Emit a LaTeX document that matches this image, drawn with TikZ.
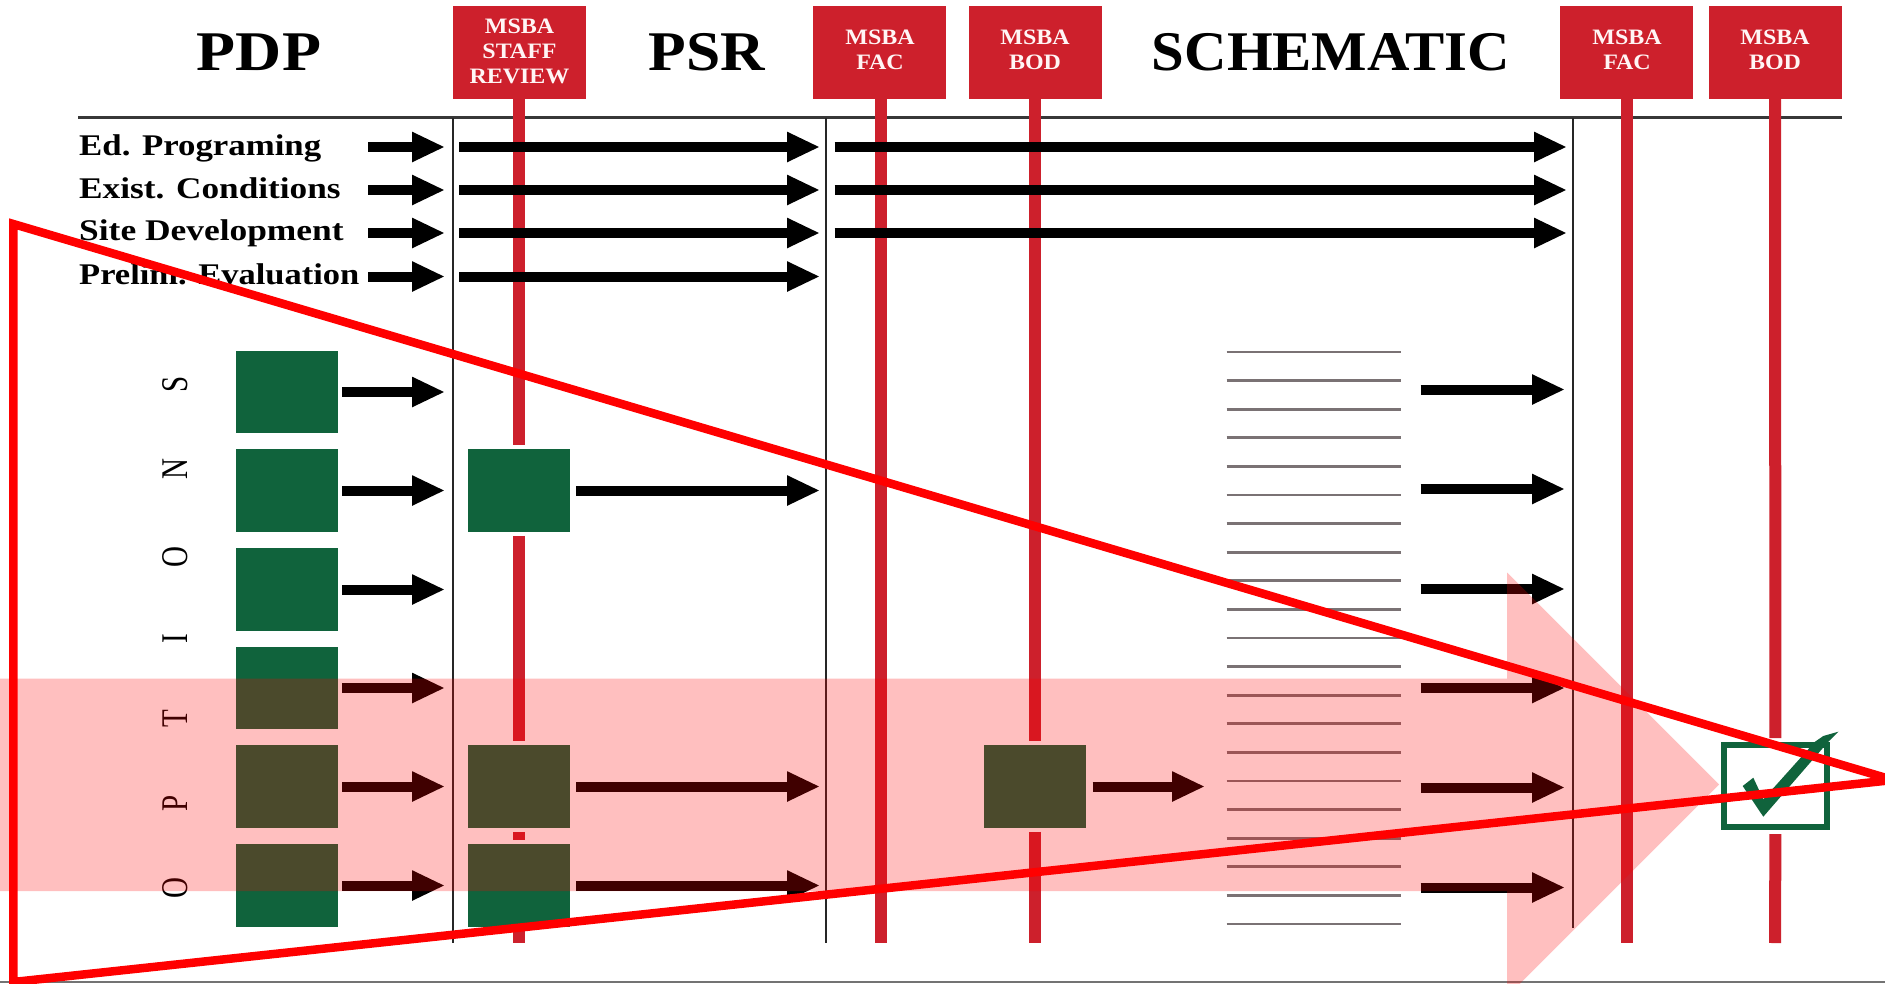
\documentclass[tikz,border=0pt]{standalone}
\usepackage{fontspec}
\setmainfont{Liberation Serif}
\usetikzlibrary{arrows.meta}
\definecolor{msbared}{HTML}{CD202C}
\definecolor{optgreen}{HTML}{10633C}
\definecolor{ruleg}{HTML}{7A7274}
\newcommand{\hdrfont}{\fontsize{22}{25}\selectfont\bfseries}
\newcommand{\mylab}[2]{\scalebox{#1}[1]{#2}}
\newcommand{\hl}[1]{\scalebox{1.09}[1]{#1}}
\tikzset{
  msbabox/.style={fill=msbared,minimum width=133pt,minimum height=92.7pt,inner sep=0pt},
  msbatext/.style={text=white!96!red,inner sep=0pt,align=center,font=\hdrfont},
  optbox/.style={fill=optgreen,minimum width=102pt,minimum height=82.5pt,inner sep=0pt},
  phase/.style={font=\fontsize{56}{60}\selectfont\bfseries,inner sep=0pt,text=black},
  rowlabel/.style={font=\fontsize{30}{32}\selectfont\bfseries,inner sep=0pt,anchor=base west,text=black},
  optletter/.style={font=\fontsize{29}{30}\selectfont,inner sep=0pt,rotate=90,text=black},
  bigarrow/.style={line width=10pt,black,-{Triangle[length=33pt,width=28pt]}},
  redbar/.style={line width=12pt,msbared},
  thinrule/.style={line width=1.6pt,black!85},
  schemline/.style={line width=2.8pt,ruleg},
}
\begin{document}
\begin{tikzpicture}[x=1pt,y=-1pt]
\clip (0,0) rectangle (1885,983);
\fill[white] (0,0) rectangle (1885,983);
% free ends
\coordinate (ruleL) at (78,117.5);
\coordinate (ruleR) at (1842,117.5);
\coordinate (botL) at (0,982);
\coordinate (botR) at (1885,982);
\draw[line width=2pt,black!55] (botL) -- (botR);
\draw[line width=2.6pt,black!78] (ruleL) -- (ruleR);
\foreach \n/\x/\yb in {v1/453/943,v2/826/943,v3/1573/928}{
  \coordinate (\n t) at (\x,117.5);
  \coordinate (\n b) at (\x,\yb);
  \draw[thinrule] (\n t) -- (\n b);
}
% header boxes
\node[msbabox] (hStaff) at (519.5,52.4) {};
\node[msbabox] (hFac1) at (879.5,52.4) {};
\node[msbabox] (hBod1) at (1035,52.4) {};
\node[msbabox] (hFac2) at (1626.5,52.4) {};
\node[msbabox] (hBod2) at (1775,52.4) {};
\node[msbatext] (tStaff) at (519.5,51) {\hl{MSBA}\\\hl{STAFF}\\\hl{REVIEW}};
\node[msbatext] (tFac1) at (880,50) {\hl{MSBA}\\\hl{FAC}};
\node[msbatext] (tBod1) at (1035,50) {\hl{MSBA}\\\hl{BOD}};
\node[msbatext] (tFac2) at (1627,50) {\hl{MSBA}\\\hl{FAC}};
\node[msbatext] (tBod2) at (1775,50) {\hl{MSBA}\\\hl{BOD}};
% option boxes
\foreach \r/\y in {1/392,2/490.5,3/589.5,4/688,5/786.5,6/885.5}{
  \node[optbox] (a\r) at (287,\y) {};
}
\foreach \r/\y in {2/490.5,5/786.5,6/885.5}{
  \node[optbox] (b\r) at (519,\y) {};
}
\node[optbox] (c5) at (1035,786.5) {};
% check box
\node[draw=optgreen,line width=6pt,fill=white,minimum width=103.5pt,minimum height=82pt,inner sep=0pt] (chk) at (1775.4,786.2) {};
% red verticals
\coordinate (staffEnd) at (519,943);
\coordinate (fac1Top) at (881,98);
\coordinate (fac1End) at (881,943);
\coordinate (bod1End) at (1035,943);
\coordinate (fac2Top) at (1627,98);
\coordinate (fac2End) at (1627,943);
\coordinate (bod2End) at (1775,943);
\draw[redbar] (hStaff.south -| b2.north) -- ([yshift=4pt]b2.north);
\draw[redbar] ([yshift=-4pt]b2.south) -- ([yshift=4pt]b5.north);
\draw[redbar] ([yshift=-4pt]b5.south) -- ([yshift=4pt]b6.north);
\draw[redbar] ([yshift=-4pt]b6.south) -- (staffEnd);
\draw[redbar] (fac1Top) -- (fac1End);
\draw[redbar] (hBod1.south) -- ([yshift=4pt]c5.north);
\draw[redbar] ([yshift=-4pt]c5.south) -- (bod1End);
\draw[redbar] (fac2Top) -- (fac2End);
\draw[redbar] (hBod2.south) -- ([yshift=4pt]chk.north);
\draw[redbar] ([yshift=-4pt]chk.south) -- (bod2End);
% check mark
\fill[optgreen] (1742.7,786) -- (1753.3,777.7) -- (1763.3,799.3) -- (1815,741.7) -- (1823.3,736) -- (1838.3,731.7) -- (1828.3,741.7) -- (1763.3,816.7) -- cycle;
% schematic lines
\foreach \i in {0,...,20}{
  \coordinate (sl\i) at (1226.7,352+\i*28.6);
  \coordinate (sr\i) at (1401,352+\i*28.6);
  \draw[schemline] (sl\i) -- (sr\i);
}
% titles
\node[phase] (tPDP) at (259,52) {\mylab{1.14}{PDP}};
\node[phase] (tPSR) at (707,52) {\mylab{1.10}{PSR}};
\node[phase] (tSCH) at (1331,52) {\mylab{1.05}{SCHEMATIC}};
% row labels
\node[rowlabel] (lEd) at (79,155) {\mylab{1.16}{Ed. Programing}};
\node[rowlabel] (lEx) at (79,198) {\mylab{1.175}{Exist. Conditions}};
\node[rowlabel] (lSi) at (79,240) {\mylab{1.18}{Site Development}};
\node[rowlabel] (lPr) at (79,284) {\mylab{1.15}{Prelim. Evaluation}};
% OPTIONS
\foreach \nm/\L/\y in {o1/S/384,o2/N/469,o3/O/557,o4/I/639,o5/T/719,o6/P/803,o7/O/888}{
  \node[optletter] (\nm) at (175.5,\y) {\scalebox{1}[1.3]{\L}};
}
% top arrows
\foreach \r/\y in {1/147,2/190,3/233,4/276.5}{
  \coordinate (p\r a) at (368,\y);
  \coordinate (p\r b) at (445,\y);
  \coordinate (p\r c) at (459,\y);
  \coordinate (p\r d) at (820,\y);
  \draw[bigarrow] (p\r a) -- (p\r b);
  \draw[bigarrow] (p\r c) -- (p\r d);
}
\foreach \r/\y in {1/147,2/190,3/233}{
  \coordinate (p\r e) at (834.5,\y);
  \coordinate (p\r f) at (1567,\y);
  \draw[bigarrow] (p\r e) -- (p\r f);
}
% option arrows
\foreach \r in {1,...,6}{
  \coordinate (ae\r) at (a\r.east -| 445,0);
  \draw[bigarrow] ([xshift=4pt]a\r.east) -- (ae\r);
}
\foreach \r in {2,5,6}{
  \coordinate (be\r) at (b\r.east -| 820,0);
  \draw[bigarrow] ([xshift=6pt]b\r.east) -- (be\r);
}
\coordinate (ce5) at (1205,786.5);
\draw[bigarrow] ([xshift=6.5pt]c5.east) -- (ce5);
\foreach \r/\y in {1/389.5,2/489,3/589,4/688,5/787.5,6/887.5}{
  \coordinate (rs\r) at (1420.5,\y);
  \coordinate (re\r) at (1565,\y);
  \draw[bigarrow] (rs\r) -- (re\r);
}
% pink arrow overlay
\fill[red,opacity=.25] (0,678.5) -- (1507,678.5) -- (1507,572.5) -- (1719,784.5) -- (1507,996.5) -- (1507,891) -- (0,891) -- cycle;
% red triangle
\draw[red,line width=8.5pt,line join=miter] (13.3,224) -- (1893,780) -- (13.3,982) -- cycle;
\end{tikzpicture}
\end{document}
